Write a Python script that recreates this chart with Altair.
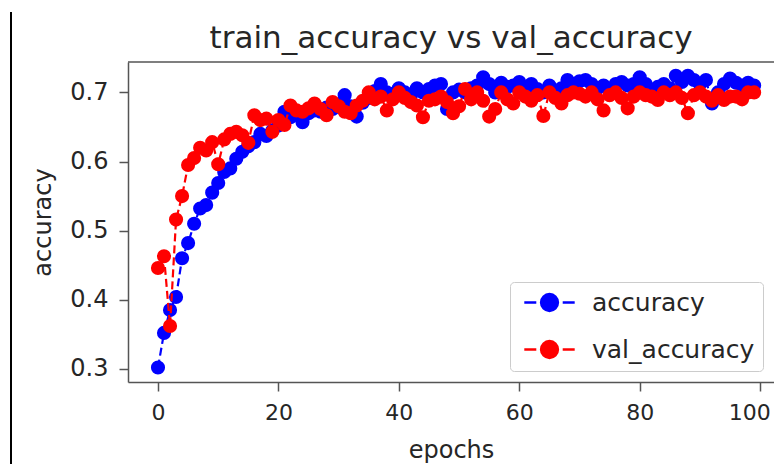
import altair as alt
import pandas as pd

series_names = ["accuracy", "val_accuracy"]
series_colors = ["#0000ff", "#ff0000"]

accuracy = [
    0.302, 0.352, 0.385, 0.404, 0.460, 0.482, 0.510, 0.532, 0.537, 0.555,
    0.569, 0.585, 0.590, 0.604, 0.614, 0.622, 0.628, 0.640, 0.637, 0.645,
    0.652, 0.672, 0.664, 0.668, 0.657, 0.670, 0.674, 0.672, 0.678, 0.676,
    0.682, 0.696, 0.680, 0.665, 0.685, 0.692, 0.702, 0.712, 0.700, 0.698,
    0.706, 0.700, 0.695, 0.706, 0.700, 0.705, 0.710, 0.712, 0.676, 0.700,
    0.704, 0.700, 0.706, 0.710, 0.722, 0.712, 0.700, 0.714, 0.708, 0.710,
    0.715, 0.706, 0.712, 0.705, 0.700, 0.710, 0.698, 0.706, 0.718, 0.712,
    0.716, 0.718, 0.712, 0.706, 0.710, 0.704, 0.712, 0.715, 0.710, 0.712,
    0.722, 0.712, 0.704, 0.708, 0.712, 0.706, 0.724, 0.715, 0.724, 0.718,
    0.712, 0.718, 0.684, 0.700, 0.712, 0.720, 0.714, 0.710, 0.714, 0.710,
]

val_accuracy = [
    0.446, 0.463, 0.362, 0.516, 0.550, 0.595, 0.605, 0.620, 0.616, 0.628,
    0.596, 0.632, 0.640, 0.643, 0.638, 0.627, 0.667, 0.660, 0.662, 0.643,
    0.660, 0.653, 0.681, 0.674, 0.672, 0.677, 0.684, 0.676, 0.667, 0.686,
    0.680, 0.672, 0.670, 0.681, 0.688, 0.700, 0.690, 0.694, 0.674, 0.690,
    0.700, 0.692, 0.686, 0.681, 0.664, 0.688, 0.690, 0.694, 0.686, 0.670,
    0.680, 0.705, 0.690, 0.700, 0.688, 0.665, 0.676, 0.700, 0.690, 0.684,
    0.700, 0.694, 0.688, 0.696, 0.666, 0.700, 0.692, 0.684, 0.696, 0.700,
    0.698, 0.694, 0.700, 0.690, 0.674, 0.696, 0.700, 0.692, 0.677, 0.694,
    0.700, 0.696, 0.694, 0.689, 0.700, 0.696, 0.700, 0.692, 0.670, 0.696,
    0.700, 0.694, 0.688, 0.696, 0.689, 0.694, 0.694, 0.690, 0.700, 0.700,
]

x_ticks = [0, 20, 40, 60, 80, 100]
y_ticks = [0.3, 0.4, 0.5, 0.6, 0.7]

epochs = list(range(len(accuracy)))
df = pd.concat([
    pd.DataFrame({"epoch": epochs, "value": accuracy, "series": series_names[0]}),
    pd.DataFrame({"epoch": epochs, "value": val_accuracy, "series": series_names[1]}),
], ignore_index=True)

FONT = "DejaVu Sans"
W, H = 646, 320
TEXT = "#262626"
SPINE = "#555555"

legend_path = ("M-4.2,0H-2.2M2.2,0H4.2"
               "M-1.4,0A1.4,1.4,0,1,1,1.4,0A1.4,1.4,0,1,1,-1.4,0Z")

x_enc = alt.X("epoch:Q",
              scale=alt.Scale(domain=[-4.98, 102.3], nice=False, zero=False),
              axis=alt.Axis(values=x_ticks, title="epochs", grid=False,
                            labelFontSize=22, titleFontSize=24, tickSize=9,
                            labelPadding=11, titlePadding=15, labelColor=TEXT,
                            titleColor=TEXT, titleFontWeight="normal",
                            domainColor=SPINE, tickColor=SPINE,
                            domainWidth=1.5, tickWidth=1.5, labelFlush=False,
                            labelOffset={"condition": {"test": "datum.value >= 100",
                                                       "value": -11},
                                         "value": 0}))
y_enc = alt.Y("value:Q",
              scale=alt.Scale(domain=[0.281, 0.744], nice=False, zero=False),
              axis=alt.Axis(values=y_ticks, format=".1f", title="accuracy",
                            grid=False, labelFontSize=24, titleFontSize=24,
                            tickSize=9, labelPadding=11, titlePadding=14,
                            labelColor=TEXT, titleColor=TEXT,
                            titleFontWeight="normal", domainColor=SPINE,
                            tickColor=SPINE, domainWidth=1.5, tickWidth=1.5,
                            labelFlush=False))
legend = alt.Legend(title=None, orient="none", legendX=382, legendY=220,
                    symbolType=legend_path, symbolSize=144,
                    symbolStrokeWidth=2.5, symbolOffset=19, labelOffset=30,
                    labelFontSize=25, labelColor=TEXT, labelFont=FONT,
                    labelLimit=400, labelExpr="datum.label + '\u00a0'",
                    rowPadding=20, padding=8, strokeColor="#cccccc",
                    fillColor="white", cornerRadius=4)
color_enc = alt.Color("series:N",
                      scale=alt.Scale(domain=series_names, range=series_colors),
                      legend=legend)

base = alt.Chart(df).encode(x=x_enc, y=y_enc, color=color_enc)

layers = []
for name in series_names:
    sub = base.transform_filter(alt.datum.series == name)
    layers.append(sub.mark_line(strokeWidth=2.2, strokeDash=[8, 4]))
    layers.append(sub.mark_circle(size=200, opacity=1))

frame_df = pd.DataFrame({"k": [0]})
top_spine = alt.Chart(frame_df).mark_rule(color=SPINE, strokeWidth=1.5).encode(
    x=alt.value(0), x2=alt.value(W), y=alt.value(0))
cell_border = alt.Chart(frame_df).mark_rule(color="black", strokeWidth=2).encode(
    x=alt.value(-117), y=alt.value(-50), y2=alt.value(402))

chart = alt.layer(*layers, top_spine, cell_border).properties(
    width=W, height=H,
    autosize=alt.AutoSizeParams(type="none"),
    padding={"left": 120, "top": 54, "right": 0, "bottom": 82},
    title=alt.TitleParams("train_accuracy vs val_accuracy", fontSize=31,
                          font=FONT, fontWeight="normal", color=TEXT,
                          anchor="middle", frame="group", offset=0, dy=44),
).configure(font=FONT).configure_view(stroke=None)

chart.save("out.html", embed_options={"renderer": "svg", "actions": False})
